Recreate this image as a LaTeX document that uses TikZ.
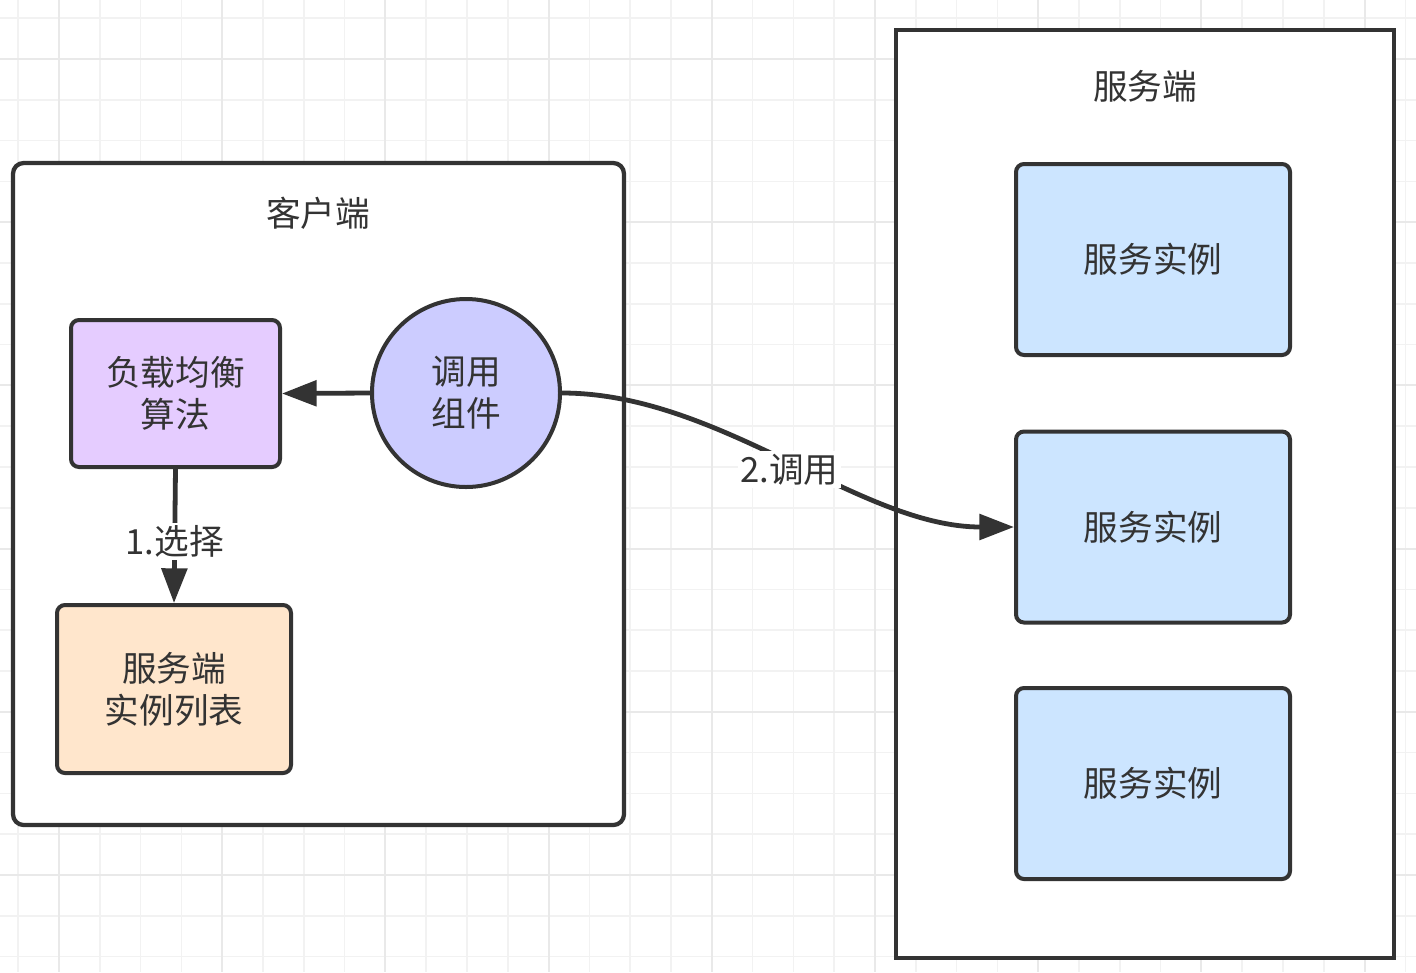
\documentclass[tikz,border=0pt]{standalone}
\usepackage{fontspec}
\setmainfont{Noto Sans CJK SC}
\usetikzlibrary{arrows.meta}
\definecolor{ink}{HTML}{333333}
\definecolor{purplefill}{HTML}{E5CCFF}
\definecolor{circfill}{HTML}{CCCCFF}
\definecolor{orangefill}{HTML}{FFE6CC}
\definecolor{bluefill}{HTML}{CCE5FF}
\definecolor{gridminor}{HTML}{F2F2F2}
\definecolor{gridmajor}{HTML}{E9E9E9}
\tikzset{
  txt/.style={text=ink, font=\fontsize{26}{31.5}\selectfont, align=center},
  container/.style={draw=ink, line width=3.2pt, fill=white, inner sep=0pt},
  roundbox/.style={draw=ink, line width=3pt, rounded corners=6pt, txt, inner sep=0pt},
  circbox/.style={draw=ink, line width=3pt, circle, fill=circfill, txt, inner sep=0pt, minimum size=141pt},
  conn/.style={draw=ink, line width=3.6pt, -{Triangle[length=26pt, width=19pt]}},
  lbl/.style={txt, fill=white, inner sep=2pt},
}
\begin{document}
\begin{tikzpicture}[x=0.75pt, y=-0.75pt]
\useasboundingbox (0,0) rectangle (1416,972);
\fill[white] (0,0) rectangle (1416,972);
% grid
\foreach \i in {0,...,34} \draw[gridminor, line width=1.2pt] ({18.2+40.8*\i},0) -- ++(0,972);
\foreach \i in {0,...,23} \draw[gridminor, line width=1.2pt] (0,{18.2+40.8*\i}) -- ++(1416,0);
\foreach \i in {0,...,8} \draw[gridmajor, line width=1.6pt] ({59+163.2*\i},0) -- ++(0,972);
\foreach \i in {0,...,5} \draw[gridmajor, line width=1.6pt] (0,{59+163.2*\i}) -- ++(1416,0);

% containers
\node[container, rounded corners=8pt, minimum width=458.25pt, minimum height=496.5pt] (client) at (318.5,494) {};
\node[txt] (clienttitle) at (318,213) {客户端};
\node[container, minimum width=373.5pt, minimum height=696pt] (server) at (1145,494) {};
\node[txt] (servertitle) at (1145,86) {服务端};

% client nodes
\node[roundbox, fill=purplefill, minimum width=156.75pt, minimum height=110.25pt] (lb) at (175.5,393.5) {负载均衡\\算法};
\node[circbox] (call) at (466,393) {调用\\组件};
\node[roundbox, fill=orangefill, minimum width=175.5pt, minimum height=126pt] (list) at (174,689) {服务端\\实例列表};

% server instances
\node[roundbox, fill=bluefill, minimum width=205.5pt, minimum height=143.25pt] (s1) at (1153,259.5) {服务实例};
\node[roundbox, fill=bluefill, minimum width=205.5pt, minimum height=143.25pt] (s2) at (1153,527) {服务实例};
\node[roundbox, fill=bluefill, minimum width=205.5pt, minimum height=143.25pt] (s3) at (1153,783.5) {服务实例};

% connectors
\draw[conn] (call.west) -- (lb.east);
\draw[conn] (lb.south) -- node[lbl, pos=0.5, yshift=-4pt] {1.选择} (list.north);
\draw[conn] (call.east) .. controls (720,393) and (860,527) .. node[lbl, pos=0.5, yshift=-7pt] {2.调用} (s2.west);
\end{tikzpicture}
\end{document}
